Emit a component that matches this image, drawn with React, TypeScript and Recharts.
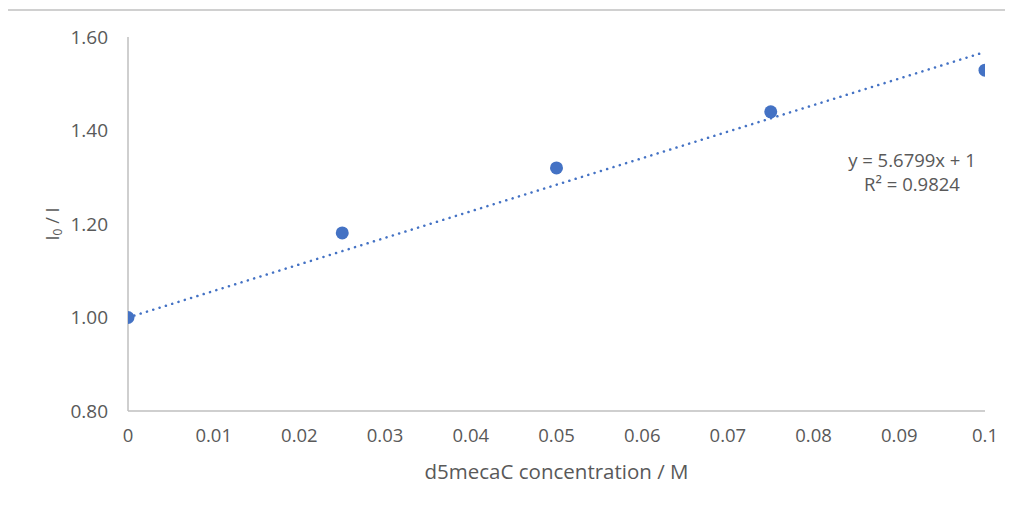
import React from "react";
import {
  ComposedChart,
  Scatter,
  Line,
  XAxis,
  YAxis,
  Label,
} from "recharts";

const concentrations = [0, 0.025, 0.05, 0.075, 0.1];
const ratios = [1.0, 1.181, 1.32, 1.44, 1.529];
const xTicks = [0, 0.01, 0.02, 0.03, 0.04, 0.05, 0.06, 0.07, 0.08, 0.09, 0.1];
const yTicks = [0.8, 1.0, 1.2, 1.4, 1.6];
const trendX = [0, 0.1];
const trendY = [1.0, 1.568];
const equationLines = ["y = 5.6799x + 1", "R² = 0.9824"];

const points = concentrations.map((x, i) => ({ x, y: ratios[i] }));
const trend = trendX.map((x, i) => ({ x, t: trendY[i] }));

const FONT = "'Open Sans', 'Liberation Sans', sans-serif";
const TEXT = "#595959";
const BLUE = "#4472C4";
const BORDER = "#d0d0d0";

export default function App() {
  return (
    <div
      style={{
        position: "relative",
        width: 1013,
        height: 511,
        marginLeft: -8,
        marginTop: -8,
        overflow: "hidden",
        background: "#fff",
        fontFamily: FONT,
      }}
    >
      <div style={{ position: "absolute", left: 0, top: 0 }}>
        <ComposedChart
          width={1013}
          height={511}
          margin={{ top: 37, right: 28, bottom: 70, left: 0 }}
        >
          <XAxis
            type="number"
            dataKey="x"
            domain={[0, 0.1]}
            ticks={xTicks}
            tickFormatter={(v: number) => String(v)}
            allowDataOverflow
            height={30}
            axisLine={{ stroke: "#bfbfbf", strokeWidth: 1.5 }}
            tickLine={false}
            tick={{ fill: TEXT, fontSize: 18.5, fontFamily: FONT }}
            tickMargin={12}
          >
            <Label
              value="d5mecaC concentration / M"
              position="bottom"
              offset={23}
              style={{ fill: TEXT, fontSize: 20.5, fontFamily: FONT }}
            />
          </XAxis>
          <YAxis
            type="number"
            domain={[0.8, 1.6]}
            ticks={yTicks}
            tickFormatter={(v: number) => v.toFixed(2)}
            width={128}
            axisLine={{ stroke: "#bfbfbf", strokeWidth: 1.5 }}
            tickLine={false}
            tick={{ fill: TEXT, fontSize: 19, fontFamily: FONT }}
            tickMargin={14}
          >
            <Label
              angle={-90}
              position="insideLeft"
              content={(props: any) => {
                const vb = props.viewBox || {};
                const cx = 52;
                const cy = (vb.y ?? 37) + (vb.height ?? 374) / 2;
                return (
                  <text
                    x={cx}
                    y={cy}
                    transform={`rotate(-90 ${cx} ${cy})`}
                    textAnchor="middle"
                    dominantBaseline="central"
                    fill={TEXT}
                    fontSize={18}
                    fontFamily={FONT}
                  >
                    I<tspan fontSize={12} dy={5}>0</tspan>
                    <tspan dy={-5}> / I</tspan>
                  </text>
                );
              }}
            />
          </YAxis>
          <Line
            data={trend}
            dataKey="t"
            type="linear"
            stroke={BLUE}
            strokeWidth={2.5}
            strokeDasharray="0.1 6.5"
            strokeLinecap="round"
            dot={false}
            activeDot={false}
            isAnimationActive={false}
          />
          <Scatter
            data={points}
            dataKey="y"
            fill={BLUE}
            shape={(p: any) => (
              <circle cx={p.cx} cy={p.cy} r={6.5} fill={BLUE} />
            )}
            isAnimationActive={false}
          />
        </ComposedChart>
      </div>
      <div
        style={{
          position: "absolute",
          left: 812,
          top: 148,
          width: 200,
          textAlign: "center",
          color: TEXT,
          fontSize: 18.5,
          lineHeight: "24px",
          fontFamily: FONT,
        }}
      >
        {equationLines.map((l) => (
          <div key={l}>{l}</div>
        ))}
      </div>
      <div
        style={{
          position: "absolute",
          zIndex: 5,
          left: 6,
          top: 9,
          width: 1100,
          height: 600,
          borderTop: `2px solid ${BORDER}`,
          borderLeft: `2px solid ${BORDER}`,
          pointerEvents: "none",
        }}
      />
    </div>
  );
}
